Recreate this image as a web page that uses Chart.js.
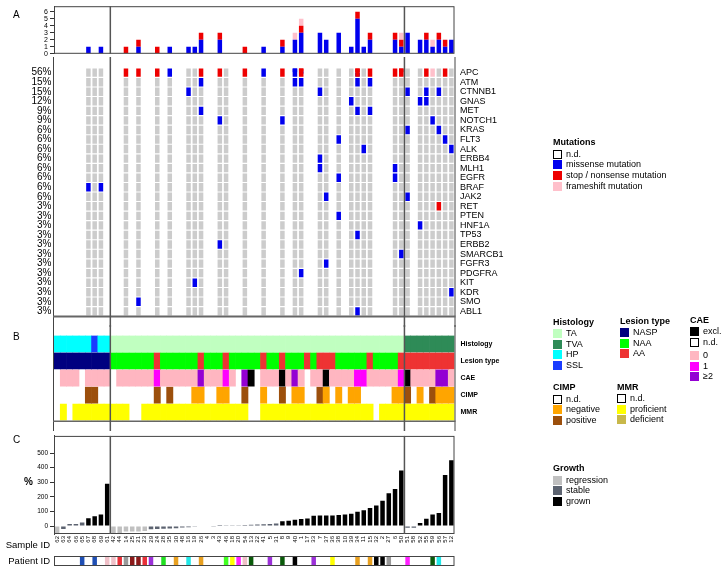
<!DOCTYPE html>
<html lang="en">
<head>
<meta charset="UTF-8">
<title>Oncoprint</title>
<script src="https://cdn.jsdelivr.net/npm/chart.js@4.4.1/dist/chart.umd.min.js"></script>
<style>
    * { margin: 0; padding: 0; box-sizing: border-box; }
    body { width: 721px; height: 567px; position: relative; background: #fff; overflow: hidden; font-family: 'Liberation Sans', Arial, sans-serif; color: #000; }
    canvas { position: absolute; left: 0; }
    .t { position: absolute; white-space: nowrap; line-height: 1; }
    .sw { position: absolute; width: 9px; height: 9px; }
    .lt { position: absolute; white-space: nowrap; font-size: 9px; line-height: 9px; }
</style>
</head>
<body>
<canvas id="top" width="721" height="60" style="top:0"></canvas>
<canvas id="matrix" width="721" height="270" style="top:57px"></canvas>
<canvas id="tracks" width="721" height="106" style="top:325px"></canvas>
<canvas id="growth" width="721" height="124" style="top:430px"></canvas>
<canvas id="patient" width="721" height="12" style="top:555px"></canvas>

<div class="t" style="left:13px;top:10px;font-size:10px">A</div>
<div class="t" style="left:13px;top:332px;font-size:10px">B</div>
<div class="t" style="left:13px;top:435px;font-size:10px">C</div>
<div class="t" style="left:24px;top:477px;font-size:10px;font-weight:bold">%</div>
<div class="t" style="right:671px;top:540px;font-size:9.5px">Sample ID</div>
<div class="t" style="right:671px;top:556px;font-size:9.5px">Patient ID</div>
<div id="legends"></div>

<script>
// ---- data ----
const sampleIds = ['62','63','64','66','65','67','68','69','61',
    '42','44','14','25','21','23','29','24','28','35','30','48','16','19','26','4','3','43','46','18','20','54','13','22','41','5','31','8','9','40','1','17','33','7','37','36','38','10','39','34','11','15','32','2','27','6',
    '50','51','58','52','55','59','56','57','12'];
const groupStarts = [9, 56];

const genes = ['APC', 'ATM', 'CTNNB1', 'GNAS', 'MET', 'NOTCH1', 'KRAS', 'FLT3', 'ALK', 'ERBB4', 'MLH1', 'EGFR', 'BRAF',
    'JAK2', 'RET', 'PTEN', 'HNF1A', 'TP53', 'ERBB2', 'SMARCB1', 'FGFR3', 'PDGFRA', 'KIT', 'KDR', 'SMO', 'ABL1'];
const genePct = ['56%', '15%', '15%', '12%', '9%', '9%', '6%', '6%', '6%', '6%', '6%', '6%', '6%',
    '6%', '3%', '3%', '3%', '3%', '3%', '3%', '3%', '3%', '3%', '3%', '3%', '3%'];

// columns that were sequenced (grey cells)
const sequenced = [5, 6, 7, 11, 13, 16, 18, 21, 22, 23, 26, 27, 30, 33, 36, 38, 39, 42, 43, 45, 47, 48, 49, 50, 54, 55,
    56, 58, 59, 60, 61, 62, 63, 64];

// [gene, column, type]  m = missense, s = stop / nonsense, f = frameshift
const mutCalls = [
    ['APC', 11, 's'], ['APC', 13, 's'], ['APC', 16, 's'], ['APC', 18, 'm'], ['APC', 23, 's'], ['APC', 26, 's'],
    ['APC', 30, 's'], ['APC', 33, 'm'], ['APC', 36, 's'], ['APC', 38, 'm'], ['APC', 38, 'f'], ['APC', 39, 's'],
    ['APC', 39, 'm'], ['APC', 39, 'f'], ['APC', 48, 's'], ['APC', 48, 'm'], ['APC', 50, 's'], ['APC', 54, 's'],
    ['APC', 55, 's'], ['APC', 55, 'f'], ['APC', 59, 's'], ['APC', 60, 'f'], ['APC', 62, 's'], ['APC', 64, 's'],
    ['ATM', 23, 'm'], ['ATM', 38, 'm'], ['ATM', 39, 'm'], ['ATM', 48, 'm'], ['ATM', 50, 'm'],
    ['CTNNB1', 21, 'm'], ['CTNNB1', 42, 'm'], ['CTNNB1', 56, 'm'], ['CTNNB1', 59, 'm'], ['CTNNB1', 61, 'm'],
    ['GNAS', 47, 'm'], ['GNAS', 58, 'm'], ['GNAS', 59, 'm'], ['GNAS', 64, 'm'],
    ['MET', 23, 'm'], ['MET', 48, 'm'], ['MET', 50, 'm'],
    ['NOTCH1', 26, 'm'], ['NOTCH1', 36, 'm'], ['NOTCH1', 60, 'm'],
    ['KRAS', 56, 'm'], ['KRAS', 61, 'm'],
    ['FLT3', 45, 'm'], ['FLT3', 62, 'm'],
    ['ALK', 49, 'm'], ['ALK', 63, 'm'],
    ['ERBB4', 42, 'm'], ['ERBB4', 64, 'm'],
    ['MLH1', 42, 'm'], ['MLH1', 54, 'm'],
    ['EGFR', 45, 'm'], ['EGFR', 54, 'm'],
    ['BRAF', 5, 'm'], ['BRAF', 7, 'm'],
    ['JAK2', 43, 'm'], ['JAK2', 56, 'm'],
    ['RET', 61, 's'], ['PTEN', 45, 'm'], ['HNF1A', 58, 'm'], ['TP53', 48, 'm'], ['ERBB2', 26, 'm'],
    ['SMARCB1', 55, 'm'], ['FGFR3', 43, 'm'], ['PDGFRA', 39, 'm'], ['KIT', 22, 'm'], ['KDR', 63, 'm'],
    ['SMO', 13, 'm'], ['ABL1', 48, 'm']
];

// mutations per sample (top bar chart)
const countMissense = [0,0,0,0,0,1,0,1,0, 0,0,0,0,1,0,0,0,0,1,0,0,1,1,2,0,0,2,0,0,0,0,0,0,1,0,0,1,0,2,3,0,0,3,2,0,3,0,1,5,1,2,0,0,0,2,1, 3,0,2,2,1,2,1,2,2];
const countStop     = [0,0,0,0,0,0,0,0,0, 0,0,1,0,1,0,0,1,0,0,0,0,0,0,1,0,0,1,0,0,0,1,0,0,0,0,0,1,0,0,1,0,0,0,0,0,0,0,0,1,0,1,0,0,0,1,1, 0,0,0,1,0,1,1,0,1];
const countFrame    = [0,0,0,0,0,0,0,0,0, 0,0,0,0,0,0,0,0,0,0,0,0,0,0,0,0,0,0,0,0,0,0,0,0,0,0,0,0,0,1,1,0,0,0,0,0,0,0,0,0,0,0,0,0,0,0,1, 0,0,0,0,1,0,0,0,0];

// annotation tracks, one code per sample
const histology = ('HHHHHHSHH' + 'TTTTTTTTTTTTTTTTTTTTTTTTTTTTTTTTTTTTTTTTTTTTTTT' + 'VVVVVVVVV').split('');
const lesion    = ('NNNNNNNNN' + 'GGGGGGGAGGGGGGAGGGAGGGGGAGGAGGGAGAAAGGGGGAGGGGA' + 'AAAAAAAAA').split('');
const cae       = ('-000-0000' + '-0000001000000200010-2x-000x020-00x000011000001' + 'x00002201').split('');
const cimp      = ('-----pp--' + '-------p-p---nn--nn--p--n--p-nn--pn-n-nn-----nn' + 'p-n-pnnnp').split('');
const mmr       = ('-p-pppppp' + 'ppp--ppppppppppppppppp--pppppppppppppppppp-pppp' + 'ppppppppp').split('');

// growth (%), and class per sample
const growthPct = [-50, -20, 14, 14, 24, 54, 67, 80, 290,
    -50, -50, -37, -37, -37, -33, -22, -20, -18, -16, -14, -10, -8, -5, -3, -2, -1, 1, 2, 3, 5, 7, 9, 11, 13, 15, 17,
    33, 37, 43, 48, 52, 70, 72, 72, 72, 76, 80, 85, 98, 109, 124, 141, 174, 224, 254, 380,
    -12, -12, 22, 50, 80, 90, 350, 450, 550];
const growthClass = ('rssssgggg' + 'rrrrrrsssssssssssssssssssssgggggggggggggggggggg' + 'ssggggggg').split('');

// patient colour per sample (null = single-sample patient)
const patientColor = [null,null,null,null,'#1f4fb4',null,'#1f4fb4',null,'#f0c0c8',
    '#f0c0c8','#e83038','#999999','#8b1a1a','#8b1a1a','#e83038','#9b30d8',null,'#20e020',null,'#e8a020',null,'#20e8e8',null,'#e8a020',null,null,null,'#40ff20','#ffff00','#ff20ff','#f0c0c8','#0a5a0a',null,null,'#9b30d8',null,'#0a5a0a',null,'#000000',null,null,'#9b30d8',null,null,'#ffff00',null,null,null,'#e8a020',null,'#e8a020','#000000','#000000','#999999',null,null,
    '#ff20ff',null,null,null,'#0a5a0a','#20e8e8',null,null,null];

// ---- colours ----
const C = {
    wt: '#cccccc', m: '#0000ee', s: '#ee0000', f: '#ffc0cb',
    H: '#00ffff', S: '#1a3cff', T: '#c0ffc0', V: '#2e8b57',
    N: '#000080', G: '#00ff00', A: '#ee3333',
    cae: { x: '#000000', '0': '#ffb6c1', '1': '#ff00ff', '2': '#9400d3' },
    cimp: { n: '#ffa500', p: '#9c4f0c' },
    mmr: { p: '#ffff00', d: '#c8b84a' },
    growth: { r: '#c0c0c0', s: '#5c6370', g: '#000000' }
};

Chart.defaults.font.family = "'Liberation Sans', Arial, sans-serif";
Chart.defaults.color = '#000';

const LEFT = 54;
const RIGHT = 266.5;
const cols = sampleIds.map((s, i) => i);

const frame = {
    id: 'frame',
    afterDraw(chart, args, o) {
        const { ctx, chartArea: a, scales: { x } } = chart;
        ctx.save();
        ctx.strokeStyle = '#444';
        ctx.lineWidth = 1;
        if (o.box) ctx.strokeRect(a.left + 0.5, a.top + 0.5, a.right - a.left - 1, a.bottom - a.top - 1);
        if (o.sides) {
            ctx.beginPath();
            ctx.moveTo(a.left - 0.5, 0); ctx.lineTo(a.left - 0.5, chart.height);
            ctx.moveTo(a.right + 0.5, 0); ctx.lineTo(a.right + 0.5, chart.height);
            ctx.stroke();
        }
        if (o.bottomLine) {
            ctx.lineWidth = o.bottomLine;
            ctx.strokeStyle = '#666';
            ctx.beginPath();
            ctx.moveTo(a.left - 1, a.bottom + 0.5); ctx.lineTo(a.right + 1, a.bottom + 0.5);
            ctx.stroke();
        }
        if (o.sep) {
            ctx.strokeStyle = '#555';
            ctx.lineWidth = 1.5;
            groupStarts.forEach(g => {
                const px = (x.getPixelForValue(g - 1) + x.getPixelForValue(g)) / 2;
                ctx.beginPath();
                ctx.moveTo(px, o.sep === 'full' ? 0 : a.top);
                ctx.lineTo(px, o.sep === 'full' ? chart.height : a.bottom);
                ctx.stroke();
            });
        }
        ctx.restore();
    }
};

const base = (padding) => ({
    animation: false, responsive: false, devicePixelRatio: 1,
    layout: { padding },
    plugins: { legend: { display: false }, tooltip: { enabled: false } }
});
const fixW = w => s => { s.width = w; };

// ---- A: mutations per sample ----
new Chart(document.getElementById('top'), {
    type: 'bar',
    data: {
        labels: cols,
        datasets: [
            { data: countMissense, backgroundColor: C.m },
            { data: countStop, backgroundColor: C.s },
            { data: countFrame, backgroundColor: C.f }
        ]
    },
    options: Object.assign(base({ top: 4, bottom: 3, left: 0, right: RIGHT }), {
        datasets: { bar: { barPercentage: 0.72, categoryPercentage: 1 } },
        scales: {
            x: { stacked: true, display: false },
            y: {
                stacked: true, min: 0, max: 6.8, afterFit: fixW(LEFT),
                afterBuildTicks: s => { s.ticks = [0, 1, 2, 3, 4, 5, 6].map(v => ({ value: v })); },
                ticks: { font: { size: 7 }, padding: 2, autoSkip: false },
                grid: { drawOnChartArea: false, tickLength: 4, color: '#333' },
                border: { color: '#444' }
            }
        },
        plugins: { legend: { display: false }, tooltip: { enabled: false }, frame: { box: true, sep: 'area' } }
    }),
    plugins: [frame]
});

// ---- A: mutation matrix ----
const matrixSets = [];
genes.forEach((g, r) => {
    const data = cols.map(c => sequenced.includes(c) ? [r - 0.44, r + 0.44] : null);
    const colors = cols.map(c => {
        const types = mutCalls.filter(k => k[0] === g && k[1] === c).map(k => k[2]);
        return types.length ? C[types[0]] : C.wt;
    });
    matrixSets.push({ data, backgroundColor: colors });
    // cells with more than one mutation type are drawn as stripes
    cols.forEach(c => {
        const types = mutCalls.filter(k => k[0] === g && k[1] === c).map(k => k[2]);
        if (types.length < 2) return;
        const h = 0.88 / types.length;
        types.forEach((t, k) => {
            matrixSets.push({
                data: cols.map(cc => cc === c ? [r - 0.44 + k * h, r - 0.44 + (k + 1) * h - 0.04] : null),
                backgroundColor: C[t]
            });
        });
    });
});

new Chart(document.getElementById('matrix'), {
    type: 'bar',
    data: { labels: cols, datasets: matrixSets },
    options: Object.assign(base({ top: 2.2, bottom: 2.6, left: 0, right: 0 }), {
        datasets: { bar: { barPercentage: 0.72, categoryPercentage: 1, grouped: false } },
        scales: {
            x: { display: false },
            y: {
                min: -0.5, max: 25.5, reverse: true, afterFit: fixW(LEFT),
                afterBuildTicks: s => { s.ticks = genes.map((g, i) => ({ value: i })); },
                ticks: { font: { size: 10 }, padding: 2.5, autoSkip: false, callback: v => genePct[v] },
                grid: { display: false, drawTicks: false }, border: { display: false }
            },
            y2: {
                position: 'right', min: -0.5, max: 25.5, reverse: true, afterFit: fixW(RIGHT),
                afterBuildTicks: s => { s.ticks = genes.map((g, i) => ({ value: i })); },
                ticks: { font: { size: 9 }, padding: 5.5, autoSkip: false, callback: v => genes[v] },
                grid: { display: false, drawTicks: false }, border: { display: false }
            }
        },
        plugins: { legend: { display: false }, tooltip: { enabled: false }, frame: { sides: true, bottomLine: 2, sep: 'full' } }
    }),
    plugins: [frame]
});

// ---- B: annotation tracks ----
const trackNames = ['Histology', 'Lesion type', 'CAE', 'CIMP', 'MMR'];
const trackColor = [
    histology.map(v => C[v]),
    lesion.map(v => C[v]),
    cae.map(v => C.cae[v] || null),
    cimp.map(v => C.cimp[v] || null),
    mmr.map(v => C.mmr[v] || null)
];
const trackSets = trackColor.map((colors, r) => ({
    data: colors.map(c => c ? [r - 0.47, r + 0.47] : null),
    backgroundColor: colors.map(c => c || '#fff')
}));

new Chart(document.getElementById('tracks'), {
    type: 'bar',
    data: { labels: cols, datasets: trackSets },
    options: Object.assign(base({ top: 1.5, bottom: 1, left: 0, right: 0 }), {
        datasets: { bar: { barPercentage: 1, categoryPercentage: 1, grouped: false } },
        scales: {
            x: { display: false },
            y: {
                min: -0.5, max: 4.5, reverse: true, afterFit: fixW(LEFT),
                ticks: { display: false }, grid: { display: false, drawTicks: false }, border: { display: false }
            },
            y2: {
                position: 'right', min: -0.5, max: 4.5, reverse: true, afterFit: fixW(RIGHT),
                afterBuildTicks: s => { s.ticks = trackNames.map((g, i) => ({ value: i })); },
                ticks: { font: { size: 7, weight: 'bold' }, padding: 6, autoSkip: false, callback: v => trackNames[v] },
                grid: { display: false, drawTicks: false }, border: { display: false }
            }
        },
        plugins: { legend: { display: false }, tooltip: { enabled: false }, frame: { sides: true, bottomLine: 1.5, sep: 'full' } }
    }),
    plugins: [frame]
});

// ---- C: growth waterfall ----
new Chart(document.getElementById('growth'), {
    type: 'bar',
    data: {
        labels: sampleIds,
        datasets: [{ data: growthPct, backgroundColor: growthClass.map(g => C.growth[g]) }]
    },
    options: Object.assign(base({ top: 0.5, bottom: 0, left: 0, right: RIGHT }), {
        datasets: { bar: { barPercentage: 0.72, categoryPercentage: 1 } },
        scales: {
            x: {
                afterFit: s => { s.height = 20; },
                ticks: { font: { size: 6 }, minRotation: 90, maxRotation: 90, autoSkip: false, padding: 2 },
                grid: { display: false, drawTicks: false }, border: { display: false }
            },
            y: {
                min: -54, max: 617, afterFit: fixW(LEFT),
                afterBuildTicks: s => { s.ticks = [0, 100, 200, 300, 400, 500].map(v => ({ value: v })); },
                ticks: { font: { size: 6.5 }, padding: 2, autoSkip: false },
                grid: { drawOnChartArea: false, tickLength: 4, color: '#333' },
                border: { color: '#444' }
            }
        },
        plugins: { legend: { display: false }, tooltip: { enabled: false }, frame: { box: true, sep: 'area' } }
    }),
    plugins: [frame]
});

// ---- patient ID row ----
new Chart(document.getElementById('patient'), {
    type: 'bar',
    data: {
        labels: cols,
        datasets: [{
            data: patientColor.map(c => c ? [0.05, 0.95] : null),
            backgroundColor: patientColor.map(c => c || '#fff')
        }]
    },
    options: Object.assign(base({ top: 1, bottom: 1, left: 0, right: RIGHT }), {
        datasets: { bar: { barPercentage: 0.72, categoryPercentage: 1 } },
        scales: {
            x: { display: false },
            y: { min: 0, max: 1, afterFit: fixW(LEFT), ticks: { display: false }, grid: { display: false, drawTicks: false }, border: { display: false } }
        },
        plugins: { legend: { display: false }, tooltip: { enabled: false }, frame: { box: true } }
    }),
    plugins: [frame]
});

// ---- legends (HTML) ----
const legends = [
    { x: 553, y: 143, title: 'Mutations', items: [['n.d.', null], ['missense mutation', C.m], ['stop / nonsense mutation', C.s], ['frameshift mutation', C.f]] },
    { x: 553, y: 322.5, title: 'Histology', items: [['TA', C.T], ['TVA', C.V], ['HP', C.H], ['SSL', C.S]] },
    { x: 620, y: 321.5, title: 'Lesion type', items: [['NASP', C.N], ['NAA', C.G], ['AA', C.A]] },
    { x: 690, y: 320.5, title: 'CAE', items: [['excl.', C.cae.x], ['n.d.', null], ['0', C.cae['0'], 2.5], ['1', C.cae['1']], ['\u22652', C.cae['2']]] },
    { x: 553, y: 388, title: 'CIMP', items: [['n.d.', null], ['negative', C.cimp.n], ['positive', C.cimp.p]] },
    { x: 617, y: 387.5, title: 'MMR', items: [['n.d.', null], ['proficient', C.mmr.p], ['deficient', C.mmr.d]] },
    { x: 553, y: 469, title: 'Growth', items: [['regression', C.growth.r], ['stable', C.growth.s], ['grown', C.growth.g]] }
];
let html = '';
legends.forEach(l => {
    html += `<div class="lt" style="left:${l.x}px;top:${l.y - 5}px;font-weight:bold">${l.title}</div>`;
    let y = l.y + 11;
    l.items.forEach(([label, color, gap]) => {
        y += gap || 0;
        const fill = color ? `background:${color}` : 'background:#fff;border:1px solid #000';
        html += `<div class="sw" style="left:${l.x}px;top:${y - 4.5}px;${fill}"></div>`;
        html += `<div class="lt" style="left:${l.x + 13}px;top:${y - 4.5}px">${label}</div>`;
        y += 10.7;
    });
});
document.getElementById('legends').innerHTML = html;
</script>
</body>
</html>
